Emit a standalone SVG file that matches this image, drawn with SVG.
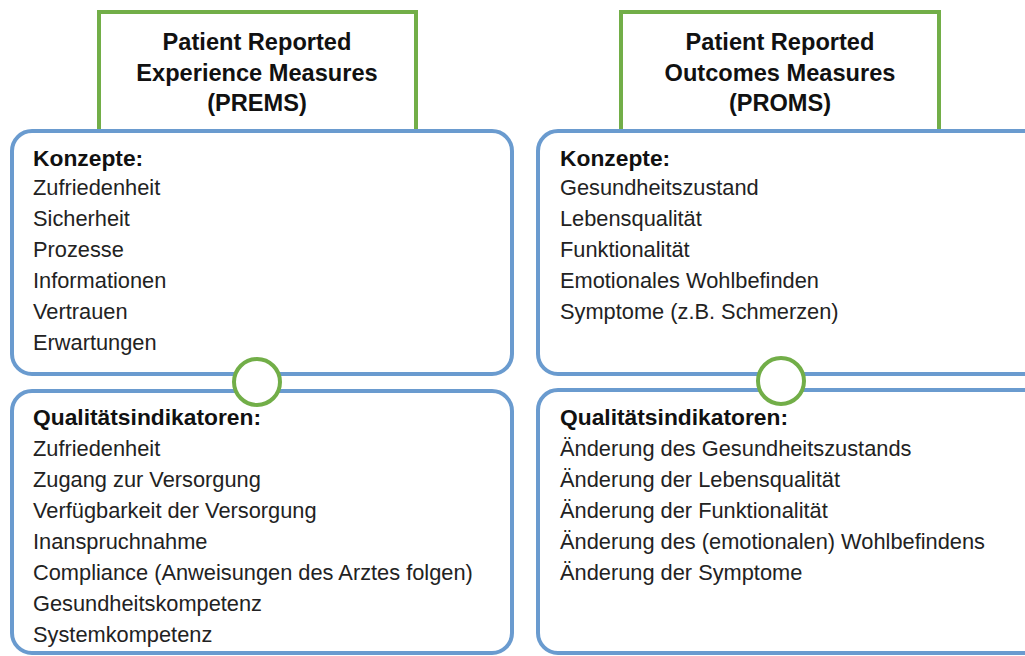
<svg xmlns="http://www.w3.org/2000/svg" width="1025" height="656" viewBox="0 0 1025 656">
<style>
.g{fill:#fff;stroke:#72AE48;stroke-width:4}
.b{fill:#fff;stroke:#6A9BCF;stroke-width:4}
.t{font-family:"Liberation Sans",Arial,sans-serif;font-size:23.6px;font-weight:bold;fill:#111;text-anchor:middle}
.h{font-family:"Liberation Sans",Arial,sans-serif;font-size:22.8px;font-weight:bold;fill:#111}
.x{font-family:"Liberation Sans",Arial,sans-serif;font-size:21.8px;fill:#222}
</style>
<rect width="1025" height="656" fill="#fff"/>
<g id="prems-title">
<rect class="g" x="99" y="12" width="317" height="130"/>
<text class="t" x="257" y="50">Patient Reported</text>
<text class="t" x="257" y="80.5">Experience Measures</text>
<text class="t" x="257" y="111">(PREMS)</text>
</g>
<g id="proms-title">
<rect class="g" x="621" y="12" width="318" height="130"/>
<text class="t" x="780" y="50">Patient Reported</text>
<text class="t" x="780" y="80.5">Outcomes Measures</text>
<text class="t" x="780" y="111">(PROMS)</text>
</g>
<g id="prems-konzepte">
<rect class="b" x="12" y="131" width="500" height="243" rx="20"/>
<text class="h" x="33" y="166">Konzepte:</text>
<text class="x" x="33" y="195">Zufriedenheit</text>
<text class="x" x="33" y="226">Sicherheit</text>
<text class="x" x="33" y="257">Prozesse</text>
<text class="x" x="33" y="288">Informationen</text>
<text class="x" x="33" y="319">Vertrauen</text>
<text class="x" x="33" y="350">Erwartungen</text>
</g>
<g id="prems-indikatoren">
<rect class="b" x="12" y="391" width="500" height="262" rx="20"/>
<text class="h" x="33" y="425">Qualitätsindikatoren:</text>
<text class="x" x="33" y="456">Zufriedenheit</text>
<text class="x" x="33" y="487">Zugang zur Versorgung</text>
<text class="x" x="33" y="518">Verfügbarkeit der Versorgung</text>
<text class="x" x="33" y="549">Inanspruchnahme</text>
<text class="x" x="33" y="580">Compliance (Anweisungen des Arztes folgen)</text>
<text class="x" x="33" y="611">Gesundheitskompetenz</text>
<text class="x" x="33" y="642">Systemkompetenz</text>
</g>
<g id="proms-konzepte">
<rect class="b" x="538" y="131" width="520" height="243" rx="20"/>
<text class="h" x="560" y="166">Konzepte:</text>
<text class="x" x="560" y="195">Gesundheitszustand</text>
<text class="x" x="560" y="226">Lebensqualität</text>
<text class="x" x="560" y="257">Funktionalität</text>
<text class="x" x="560" y="288">Emotionales Wohlbefinden</text>
<text class="x" x="560" y="319">Symptome (z.B. Schmerzen)</text>
</g>
<g id="proms-indikatoren">
<rect class="b" x="538" y="390" width="520" height="263" rx="20"/>
<text class="h" x="560" y="425">Qualitätsindikatoren:</text>
<text class="x" x="560" y="456">Änderung des Gesundheitszustands</text>
<text class="x" x="560" y="487">Änderung der Lebensqualität</text>
<text class="x" x="560" y="518">Änderung der Funktionalität</text>
<text class="x" x="560" y="549">Änderung des (emotionalen) Wohlbefindens</text>
<text class="x" x="560" y="580">Änderung der Symptome</text>
</g>
<g id="connectors">
<circle class="g" cx="257" cy="382" r="23"/>
<circle class="g" cx="781" cy="381" r="23"/>
</g>
</svg>
